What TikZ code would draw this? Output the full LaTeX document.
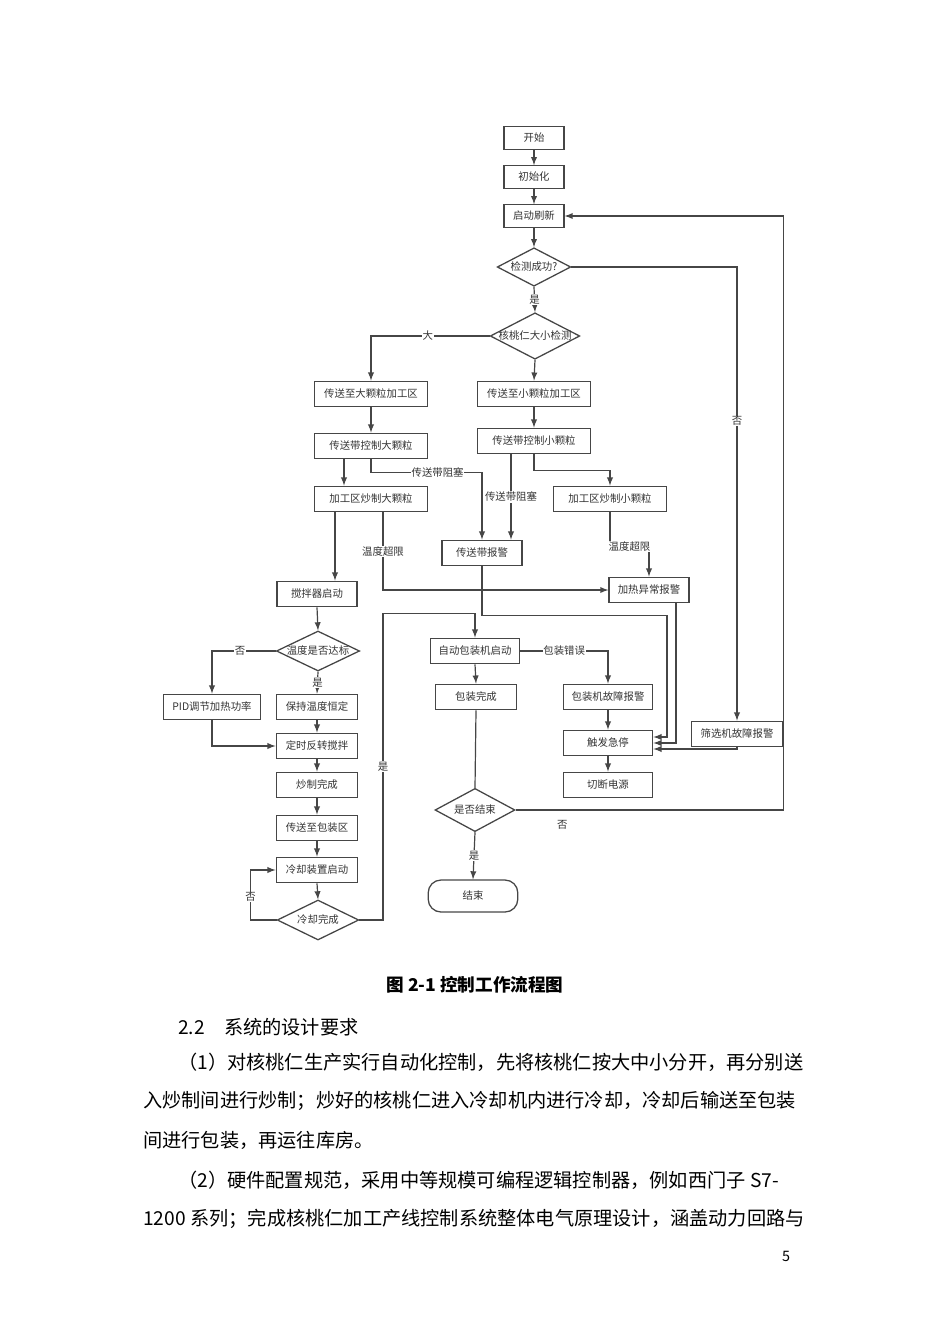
\documentclass[tikz,border=0pt]{standalone}
\usepackage{fontspec}
\setmainfont{Noto Sans CJK SC}
\usetikzlibrary{shapes.geometric, arrows, calc}
\XeTeXlinebreaklocale "zh"
\XeTeXlinebreakskip=0pt plus 1pt
\newcommand{\chartfont}{\fontsize{6.5}{7.5}\selectfont\color{black!80}}
\definecolor{linegray}{RGB}{70,70,70}
\tikzstyle{box} = [rectangle, draw=linegray, line width=0.8pt, minimum width=51pt, minimum height=16pt, inner sep=1pt, font=\chartfont]
\tikzstyle{wide} = [box, minimum width=71pt]
\tikzstyle{dec} = [diamond, draw=linegray, line width=0.8pt, inner sep=0pt, minimum width=51pt, minimum height=25pt]
\tikzstyle{lab} = [fill=white, inner sep=0.5pt, font=\chartfont]
\tikzstyle{flowarrow} = [draw=linegray, line width=0.75pt, ->, >=latex]
\tikzstyle{flowline} = [draw=linegray, line width=0.75pt]
\tikzstyle{body} = [anchor=west, inner sep=0pt, font=\fontsize{12}{14}\selectfont, align=justify]

\begin{document}
\begin{tikzpicture}[x=0.625pt, y=-0.625pt]
    \useasboundingbox (0,0) rectangle (950,1344);
    % Nodes
    \node (start) [box, minimum width=37.5pt, minimum height=14pt] at (534,138) {开始};
    \node (init) [box, minimum width=37.5pt, minimum height=14pt] at (534,177) {初始化};
    \node (refresh) [box, minimum width=37.5pt, minimum height=14pt] at (534,216) {启动刷新};
    \node (chk) [dec, minimum width=46pt, minimum height=24pt, label={[font=\chartfont]center:检测成功?}] at (534,267) {};
    \node (size) [dec, minimum width=56pt, minimum height=29pt, label={[font=\chartfont]center:核桃仁大小检测}] at (535,336) {};

    \node (big) [wide] at (371,394) {传送至大颗粒加工区};
    \node (small) [wide] at (534,394) {传送至小颗粒加工区};
    \node (bigctl) [wide] at (371,446) {传送带控制大颗粒};
    \node (smallctl) [wide] at (534,441) {传送带控制小颗粒};
    \node (bigproc) [wide] at (371,499) {加工区炒制大颗粒};
    \node (smallproc) [wide] at (610,499) {加工区炒制小颗粒};
    \node (belt) [box, minimum width=50pt] at (482,553) {传送带报警};
    \node (heat) [box, minimum width=50pt] at (649,590) {加热异常报警};
    \node (mix) [box, minimum width=50pt] at (317,594) {搅拌器启动};

    \node (temp) [dec, minimum width=52pt, label={[font=\chartfont]center:温度是否达标}] at (318,651) {};
    \node (pid) [box, minimum width=61pt] at (212,707) {PID调节加热功率};
    \node (keep) [box] at (317,707) {保持温度恒定};
    \node (timer) [box] at (317,746) {定时反转搅拌};
    \node (done) [box] at (317,785) {炒制完成};
    \node (topack) [box] at (317,828) {传送至包装区};
    \node (cool) [box] at (317,870) {冷却装置启动};
    \node (cooled) [dec, label={[font=\chartfont]center:冷却完成}] at (318,920) {};

    \node (pack) [box, minimum width=56pt] at (475,651) {自动包装机启动};
    \node (packdone) [box] at (476,697) {包装完成};
    \node (packerr) [box, minimum width=56pt] at (608,697) {包装机故障报警};
    \node (stop) [box, minimum width=56pt] at (608,743) {触发急停};
    \node (power) [box, minimum width=56pt] at (608,785) {切断电源};
    \node (scr) [box, minimum width=57pt] at (737,734) {筛选机故障报警};
    \node (fin) [dec, minimum width=50pt, minimum height=27pt, label={[font=\chartfont]center:是否结束}] at (475,810) {};
    \node (term) [box, minimum width=56pt, minimum height=20pt, rounded corners=8pt] at (473,896) {结束};

    % Connectors
    \draw [flowarrow] (start.south) -- (init.north);
    \draw [flowarrow] (init.south) -- (refresh.north);
    \draw [flowarrow] (refresh.south) -- (chk.north);
    \draw [flowarrow] (chk.south) -- node[lab] {是} (size.north);
    \draw [flowarrow] (chk.east) -| node[lab, pos=0.67] {否} (scr.north);
    \draw [flowarrow] (size.west) -| node[lab, pos=0.26] {大} (big.north);
    \draw [flowarrow] (size.south) -- (small.north);
    \draw [flowarrow] (big.south) -- (bigctl.north);
    \draw [flowarrow] (small.south) -- (smallctl.north);
    \draw [flowarrow] ($(bigctl.south)+(-27,0)$) coordinate (b1) -- (b1 |- bigproc.north);
    \draw [flowarrow] (bigctl.south) -- ++(0,13) -| node[lab, pos=0.3] {传送带阻塞} (belt.north);
    \draw [flowarrow] ($(smallctl.south)+(-23,0)$) coordinate (b2) -- node[lab] {传送带阻塞} (b2 |- belt.north);
    \draw [flowarrow] (smallctl.south) -- ++(0,16) -| (smallproc.north);
    \draw [flowarrow] ($(bigproc.south)+(-36,0)$) coordinate (b3) -- (b3 |- mix.north);
    \draw [flowarrow] ($(bigproc.south)+(12,0)$) |- node[lab, pos=0.25] {温度超限} (heat.west);
    \draw [flowarrow] (smallproc.south) -- ++(0,34) -| node[lab, pos=0.25] {温度超限} (heat.north);
    \draw [flowarrow] (belt.south) |- ++(185,49) |- ($(stop.east)+(0,-6)$);
    \draw [flowarrow] ($(heat.south)+(27,0)$) |- (stop.east);
    \draw [flowarrow] (scr.south) |- ($(stop.east)+(0,6)$);

    \draw [flowarrow] (mix.south) -- (temp.north);
    \draw [flowarrow] (temp.west) -| node[lab, pos=0.28] {否} (pid.north);
    \draw [flowarrow] (temp.south) -- node[lab] {是} (keep.north);
    \draw [flowarrow] (keep.south) -- (timer.north);
    \draw [flowarrow] (pid.south) |- (timer.west);
    \draw [flowarrow] (timer.south) -- (done.north);
    \draw [flowarrow] (done.south) -- (topack.north);
    \draw [flowarrow] (topack.south) -- (cool.north);
    \draw [flowarrow] (cool.south) -- (cooled.north);
    \draw [flowarrow] (cooled.west) -- ++(-26,0) |- node[lab, pos=0.23] {否} (cool.west);
    \draw [flowarrow] (cooled.east) -| node[lab, pos=0.75] {是} ($(pack.north)+(-92,-24)$) -| (pack.north);

    \draw [flowarrow] (pack.east) -| node[lab, pos=0.25] {包装错误} (packerr.north);
    \draw [flowarrow] (pack.south) -- (packdone.north);
    \draw [flowline] (packdone.south) -- (fin.north);
    \draw [flowarrow] (packerr.south) -- (stop.north);
    \draw [flowarrow] (stop.south) -- (power.north);
    \draw [flowarrow] (fin.east) -| node[pos=0.087, below=3pt, font=\chartfont] {否} ($(refresh.east)+(219,0)$) -- (refresh.east);
    \draw [flowarrow] (fin.south) -- node[lab] {是} (term.north);

    % Page text
    \node (caption) [font=\fontsize{11}{13}\selectfont\bfseries] at (475,985) {图 2-1 控制工作流程图};
    \node (sec) [body] at (178,1027) {2.2\hspace{12pt}系统的设计要求};
    \node (l1) [body, text width=393pt] at (178,1062) {\parfillskip=0pt （1）对核桃仁生产实行自动化控制，先将核桃仁按大中小分开，再分别送};
    \node (l2) [body, text width=414pt] at (143,1101) {\parfillskip=0pt 入炒制间进行炒制；炒好的核桃仁进入冷却机内进行冷却，冷却后输送至包装};
    \node (l3) [body] at (143,1140) {间进行包装，再运往库房。};
    \node (l4) [body, text width=393pt] at (178,1180) {\parfillskip=0pt （2）硬件配置规范，采用中等规模可编程逻辑控制器，例如西门子 S7-};
    \node (l5) [body, text width=414pt] at (143,1219) {\parfillskip=0pt 1200 系列；完成核桃仁加工产线控制系统整体电气原理设计，涵盖动力回路与};
    \node (pageno) [font=\fontsize{9}{11}\selectfont] at (786,1256) {5};
\end{tikzpicture}
\end{document}
